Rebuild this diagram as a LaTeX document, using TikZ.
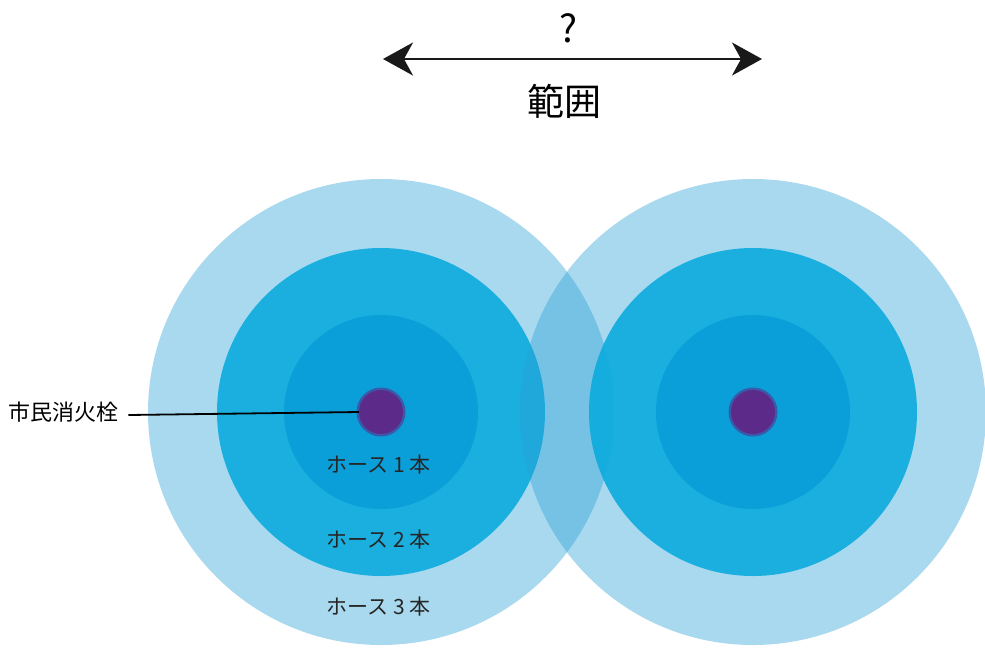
\documentclass[tikz,border=0pt]{standalone}
\usepackage{fontspec}
\setmainfont{Noto Sans CJK JP}
\usepackage{xcolor}
\definecolor{RingThree}{HTML}{29A0D7}
\definecolor{RingTwo}{HTML}{0BABDE}
\definecolor{RingOne}{HTML}{0A9FD9}
\definecolor{HydrantPurple}{HTML}{5C2B8A}
\usepackage{tikz}
\usetikzlibrary{arrows.meta}

\begin{document}
\begin{tikzpicture}[x=1pt, y=-1pt, >={Stealth[length=30pt, width=33pt, inset=9pt]},
  every node/.style={font=\fontsize{21}{24}\selectfont, inner sep=0pt},
  hoselabel/.style={text=black!85},
  hydrant/.style={circle, minimum size=44pt, fill=HydrantPurple}]
  \useasboundingbox (0,0) rectangle (985,649);
  \coordinate (cL) at (381,412);
  \coordinate (cR) at (753,412);
  % rings of each hydrant
  \foreach \c in {cL, cR} {
    \fill[RingThree, fill opacity=.4] (\c) circle (233);
    \fill[RingTwo, fill opacity=.9] (\c) circle (164);
    \fill[RingOne] (\c) circle (97);
  }
  \foreach \c/\n in {cL/hydL, cR/hydR} {
    \fill[HydrantPurple, opacity=.6] (\c) circle (24.5);
    \node[hydrant] (\n) at (\c) {};
  }
  \node[hoselabel] (hose1) at (379,465) {ホース 1 本};
  \node[hoselabel] (hose2) at (379,540) {ホース 2 本};
  \node[hoselabel] (hose3) at (379,607) {ホース 3 本};
  \node[anchor=west, font=\fontsize{22}{26}\selectfont] (lblhyd) at (8,412) {市民消火栓};
  \draw[line width=1.8pt] ([xshift=10pt, yshift=-3pt]lblhyd.east) -- (hydL.west);
  % range arrow
  \coordinate (rangeL) at (383,59);
  \coordinate (rangeR) at (762,59);
  \draw[<->, line width=2pt, black!90] (rangeL) -- (rangeR);
  \node[font=\fontsize{38}{42}\selectfont] (qmark) at (568,28) {?};
  \node[font=\fontsize{37}{42}\selectfont] (range) at (564,101) {範囲};
\end{tikzpicture}
\end{document}
